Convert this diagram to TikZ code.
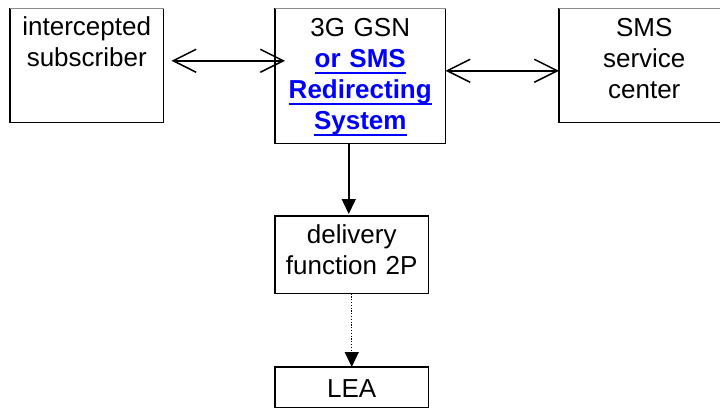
\documentclass[tikz,border=0pt]{standalone}
\usepackage{fontspec}
\setmainfont{Liberation Sans}
\usepackage{xcolor}
\usetikzlibrary{arrows.meta,calc}
\newcommand{\linktext}[1]{\setbox0\hbox{\textbf{#1}}\rlap{\rule[-6pt]{\wd0}{2pt}}\box0}

\begin{document}
\begin{tikzpicture}[x=1pt,y=-1pt,line width=1.5pt,
    box/.style={inner sep=0pt,anchor=north west,align=center,
      font=\fontsize{26}{31}\selectfont},
    biarrow/.style={{Straight Barb[length=23pt,width=23pt]}-{Straight Barb[length=23pt,width=23pt]}},
    headarrow/.style={-{Triangle[length=15pt,width=14pt]}}]
    \useasboundingbox (0,0) rectangle (720,408);
    \clip (0,0) rectangle (720,408);
    % boxes
    \node[box,text width=152pt,text height=27pt,text depth=86pt] (sub) at (10,8) {intercepted\\subscriber};
    \node[box,text width=169pt,text height=28pt,text depth=106pt] (gsn) at (275,8)
      {3G GSN\\\textcolor{blue}{\linktext{or SMS}}\\\textcolor{blue}{\linktext{Redirecting}}\\\textcolor{blue}{\linktext{System}}};
    \node[box,text width=169pt,text height=28pt,text depth=85pt] (sms) at (559,8) {SMS\\service\\center};
    \node[box,text width=152pt,text height=27pt,text depth=49pt] (del) at (275,216) {delivery\\function 2P};
    \node[box,text width=152pt,text height=30pt,text depth=9pt] (lea) at (275,367) {LEA};
    % frames, the top row is cut at its upper edge
    \foreach \n in {sub,gsn,sms}
    {
      \draw (\n.north west) -- (\n.south west) -- (\n.south east) -- (\n.north east);
      \draw[black!45,line width=0.8pt] (\n.north west) -- (\n.north east);
    }
    \foreach \n in {del,lea}
      \draw (\n.north west) rectangle (\n.south east);
    % connections
    \coordinate (subout) at ([xshift=8pt,yshift=4.5pt]sub.east);
    \draw[biarrow] (subout) -- ([xshift=10pt]gsn.west |- subout);
    \draw[biarrow] ([yshift=5pt]gsn.east) -- ([yshift=5pt]gsn.east -| sms.west);
    \draw[headarrow] ([xshift=-3pt]del.north |- gsn.south) -- ([xshift=-3pt,yshift=2pt]del.north);
    \draw[headarrow,line width=1.3pt,dash pattern=on 1.3pt off 1.5pt] (del.south) -- (lea.north);
\end{tikzpicture}
\end{document}
